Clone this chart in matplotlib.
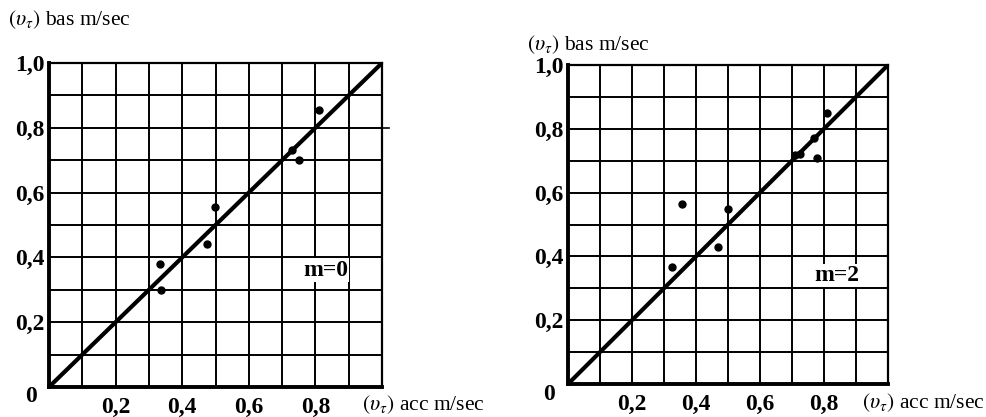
import numpy as np
from matplotlib import pyplot as plt

# m = 0 panel
x0 = [0.333, 0.336, 0.474, 0.498, 0.73, 0.75, 0.81]
y0 = [0.38, 0.30, 0.44, 0.555, 0.73, 0.70, 0.856]

# m = 2 panel
x2 = [0.325, 0.356, 0.47, 0.50, 0.71, 0.725, 0.77, 0.778, 0.81]
y2 = [0.367, 0.564, 0.43, 0.548, 0.717, 0.72, 0.77, 0.71, 0.85]

ticks = [0.2, 0.4, 0.6, 0.8]
xtick_labels = ["0,2", "0,4", "0,6", "0,8"]
ytick_labels = ["0,2", "0,4", "0,6", "0,8", "1,0"]
ylabel = r"$(\upsilon_\tau)$ bas m/sec"
xlabel = r"$(\upsilon_\tau)$ acc m/sec"

plt.rcParams['font.family'] = 'Liberation Serif'
plt.rcParams['mathtext.fontset'] = 'stix'

fig = plt.figure(figsize=(9.87, 4.17), dpi=100)

W, H = 987, 417


def panel(rect, xs, ys, mtext, mpos, ylab_pos, xlab_pos, zero_pos):
    l, b, w, h = rect
    ax = fig.add_axes([l / W, (H - b) / H, w / W, h / H])
    ax.set_xlim(0, 1)
    ax.set_ylim(0, 1)
    for v in np.arange(0.1, 1.0, 0.1):
        ax.axvline(v, color='black', lw=1.4, zorder=1)
        ax.axhline(v, color='black', lw=1.4, zorder=1)
    ax.plot([0, 1], [0, 1], color='black', lw=3, zorder=3)
    ax.plot(xs, ys, 'o', color='black', ms=5, zorder=4)
    for s in ['left', 'bottom']:
        ax.spines[s].set_linewidth(2.8)
    for s in ['right', 'top']:
        ax.spines[s].set_linewidth(1.6)
    ax.set_xticks(ticks)
    ax.set_xticklabels(xtick_labels, fontsize=17, fontweight='bold')
    ax.set_yticks(ticks + [1.0])
    ax.set_yticklabels(ytick_labels, fontsize=17, fontweight='bold')
    ax.tick_params(axis='x', length=0, pad=7)
    ax.tick_params(axis='y', length=0, pad=3)
    ax.text(mpos[0], mpos[1], mtext, fontsize=17, fontweight='bold',
            ha='center', va='center', zorder=5,
            bbox=dict(facecolor='white', edgecolor='none', pad=1))
    fig.text(ylab_pos[0] / W, 1 - ylab_pos[1] / H, ylabel, fontsize=15.5,
             ha='left', va='center')
    fig.text(xlab_pos[0] / W, 1 - xlab_pos[1] / H, xlabel, fontsize=15.5,
             ha='left', va='center')
    fig.text(zero_pos[0] / W, 1 - zero_pos[1] / H, "0", fontsize=17,
             fontweight='bold', ha='center', va='center')
    return ax


# rect = (left px, bottom px, width px, height px)
ax1 = panel((49, 387, 333, 324), x0, y0, "m=0", (0.83, 0.36),
            (8, 20), (362, 405), (31, 397))
# gridline at 0.8 runs a little past the right edge
ax1.plot([1.0, 1.02], [0.8, 0.8], color='black', lw=1.2, clip_on=False)

ax2 = panel((568, 384, 320, 319), x2, y2, "m=2", (0.84, 0.34),
            (527, 45), (862, 403), (549, 395))

fig.savefig('out.png', dpi=100, facecolor='white')
